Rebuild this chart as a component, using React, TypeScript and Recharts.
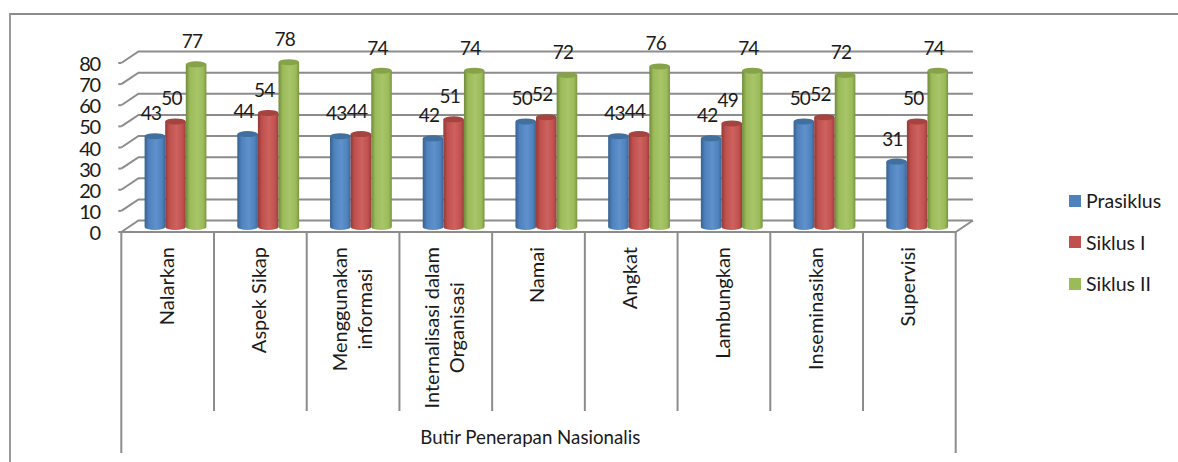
import { Bar, CartesianGrid, ComposedChart, Legend, XAxis, YAxis } from 'recharts'

const categories = [
  ['Nalarkan'],
  ['Aspek Sikap'],
  ['Menggunakan', 'informasi'],
  ['Internalisasi dalam', 'Organisasi'],
  ['Namai'],
  ['Angkat'],
  ['Lambungkan'],
  ['Inseminasikan'],
  ['Supervisi'],
]
const prasiklus = [43, 44, 43, 42, 50, 43, 42, 50, 31]
const siklus1 = [50, 54, 44, 51, 52, 44, 49, 52, 50]
const siklus2 = [77, 78, 74, 74, 72, 76, 74, 72, 74]
const yTicks = [0, 10, 20, 30, 40, 50, 60, 70, 80]
const axisTitle = 'Butir Penerapan Nasionalis'

const data = categories.map((lines, i) => ({
  name: lines.join(' '),
  prasiklus: prasiklus[i],
  siklus1: siklus1[i],
  siklus2: siklus2[i],
}))

const FONT = 'Lato, "Open Sans", sans-serif'
const INK = '#1a1a1a'
const LINE = '#8c8c8c'
const CAT_W = 92.7
// the chart is a fake 3d one: bars stand in the middle of the floor
const FRONT_X = -8.3
const FRONT_Y = 5
const BACK_X = 8.9
const BACK_Y = -6.5

const colors = {
  blue: ['#37618f', '#4f81bd', '#5f91cc', '#3a6596', '#41709f'],
  red: ['#8e3a37', '#c0504d', '#cd625f', '#943e3b', '#a5433f'],
  green: ['#6f8a3c', '#9bbb59', '#a8c569', '#78933f', '#87a34a'],
}

function gradient(id: string, c: string[]) {
  return (
    <linearGradient id={id} x1="0" y1="0" x2="1" y2="0">
      <stop offset="0" stopColor={c[0]} />
      <stop offset="0.2" stopColor={c[1]} />
      <stop offset="0.55" stopColor={c[2]} />
      <stop offset="0.85" stopColor={c[1]} />
      <stop offset="1" stopColor={c[3]} />
    </linearGradient>
  )
}

function cylinder(id: string, top: string) {
  return (props: any) => {
    const { x, y, width, height } = props
    const rx = width / 2
    const ry = 3
    const bottom = y + height
    return (
      <g>
        <path
          d={`M${x},${y} L${x},${bottom} A${rx},${ry} 0 0 0 ${x + width},${bottom} L${x + width},${y} Z`}
          fill={`url(#${id})`}
        />
        <ellipse cx={x + rx} cy={y} rx={rx} ry={ry} fill={top} />
      </g>
    )
  }
}

function valueLabel(props: any) {
  const { x, y, width, value } = props
  return (
    <text x={x + width / 2 - 4} y={y - 16} textAnchor="middle" fontFamily={FONT} fontSize={19} letterSpacing={-0.8} fill={INK}>
      {value}
    </text>
  )
}

function wallLine(props: any) {
  const { x1, x2, y1 } = props
  const fx = x1 + FRONT_X
  const fy = y1 + FRONT_Y
  const bx = x1 + BACK_X
  const by = y1 + BACK_Y
  const isFloor = y1 > 220
  return (
    <g key={props.key} stroke={LINE} strokeWidth={2} fill="none">
      <path d={`M${fx},${fy} L${bx},${by} L${x2 + BACK_X},${by}`} />
      <line x1={fx - 3} y1={fy} x2={fx} y2={fy} />
      {isFloor && <path d={`M${fx},${fy} L${x2 + FRONT_X},${fy} L${x2 + BACK_X},${by}`} />}
    </g>
  )
}

function YTick(props: any) {
  const { y, payload } = props
  return (
    <text x={100} y={y + FRONT_Y + 8} textAnchor="end" fontFamily={FONT} fontSize={20} letterSpacing={-1.2} fill={INK}>
      {payload.value}
    </text>
  )
}

let ctx: CanvasRenderingContext2D | null = null
function measure(text: string, size: number) {
  if (!ctx) ctx = document.createElement('canvas').getContext('2d')
  ctx!.font = `${size}px ${FONT}`
  return ctx!.measureText(text).width
}

function XTick(props: any) {
  const { x, y, index } = props
  const cx = x + FRONT_X
  const top = y + FRONT_Y
  const lines = categories[index]
  const size = 20
  const block = Math.max(...lines.map((l) => measure(l, size)))
  const mid = top + 15 + block / 2
  const step = 25
  const firstX = cx + 6 - ((lines.length - 1) * step) / 2
  return (
    <g>
      <line x1={cx - CAT_W / 2} y1={top} x2={cx - CAT_W / 2} y2={index === 0 ? 453 : 411} stroke={LINE} strokeWidth={2} />
      {index === categories.length - 1 && (
        <line x1={cx + CAT_W / 2} y1={top} x2={cx + CAT_W / 2} y2={453} stroke={LINE} strokeWidth={2} />
      )}
      {lines.map((line, i) => {
        const tx = firstX + i * step
        return (
          <text
            key={line}
            x={tx}
            y={mid}
            textAnchor="middle"
            transform={`rotate(-90 ${tx} ${mid})`}
            fontFamily={FONT}
            fontSize={size}
            fill={INK}
          >
            {line}
          </text>
        )
      })}
    </g>
  )
}

function LegendBox(props: any) {
  return (
    <div>
      {props.payload.map((p: any) => (
        <div key={p.value} style={{ display: 'flex', alignItems: 'center', height: 41.5 }}>
          <span style={{ width: 12, height: 12, background: p.color, marginRight: 5 }} />
          <span style={{ fontFamily: FONT, fontSize: 19.5, color: INK }}>{p.value}</span>
        </div>
      ))}
    </div>
  )
}

export default function App() {
  return (
    <div style={{ position: 'absolute', left: 0, top: 0, width: 1178, height: 462, background: '#fff', overflow: 'hidden' }}>
      <div
        style={{
          position: 'absolute',
          left: 9,
          top: 13,
          width: 1169,
          height: 449,
          borderTop: '2px solid #8c8c8c',
          borderLeft: '2px solid #9a9a9a',
          boxSizing: 'border-box',
        }}
      />
      <ComposedChart
        width={1178}
        height={462}
        data={data}
        margin={{ top: 58, right: 109, bottom: 0, left: 0 }}
        barCategoryGap={15.4}
        barSize={20.6}
        barGap={0}
        style={{ position: 'absolute', left: 0, top: 0 }}
      >
        <defs>
          {gradient('gBlue', colors.blue)}
          {gradient('gRed', colors.red)}
          {gradient('gGreen', colors.green)}
        </defs>
        <CartesianGrid vertical={false} horizontal={wallLine} />
        <YAxis
          domain={[0, 80]}
          ticks={yTicks}
          width={129.6}
          axisLine={false}
          tickLine={false}
          tick={YTick}
          interval={0}
        />
        <XAxis
          dataKey="name"
          height={235}
          axisLine={false}
          tickLine={false}
          tickSize={0}
          tickMargin={0}
          interval={0}
          tick={XTick}
          label={{
            value: axisTitle,
            position: 'insideBottom',
            offset: 18,
            dx: -16.5,
            fontFamily: FONT,
            fontSize: 18.7,
            fill: INK,
          }}
        />
        <Bar dataKey="prasiklus" name="Prasiklus" fill="#4f81bd" shape={cylinder('gBlue', colors.blue[4])} label={valueLabel} isAnimationActive={false} />
        <Bar dataKey="siklus1" name="Siklus I" fill="#c0504d" shape={cylinder('gRed', colors.red[4])} label={valueLabel} isAnimationActive={false} />
        <Bar dataKey="siklus2" name="Siklus II" fill="#9bbb59" shape={cylinder('gGreen', colors.green[4])} label={valueLabel} isAnimationActive={false} />
        <Legend
          layout="vertical"
          align="right"
          verticalAlign="middle"
          content={(props: any) => <LegendBox payload={props.payload} />}
          wrapperStyle={{ position: 'absolute', left: 1069, top: 180, width: 105 }}
        />
      </ComposedChart>
    </div>
  )
}
